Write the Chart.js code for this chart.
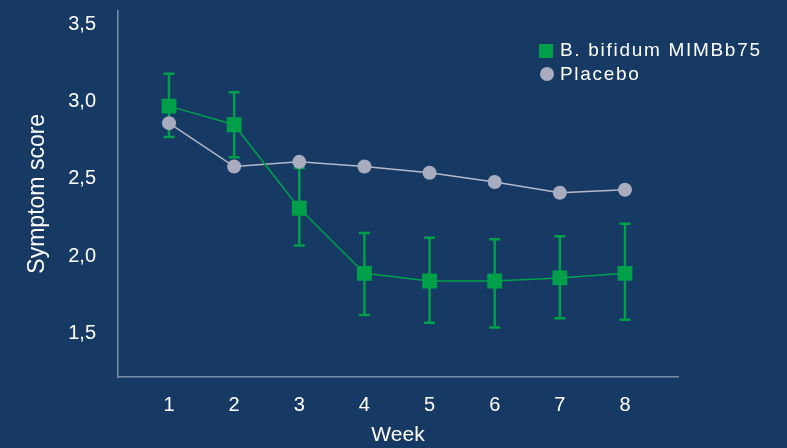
<!DOCTYPE html>
<html>
<head>
<meta charset="utf-8">
<script src="https://cdn.jsdelivr.net/npm/chart.js@4/dist/chart.umd.min.js"></script>
<style>
  html, body { margin: 0; padding: 0; background: #163a64; }
  #wrap { width: 787px; height: 448px; }
</style>
</head>
<body>
<div id="wrap"><canvas id="symptomChart" width="787" height="448"></canvas></div>
<script>
// values
const weeks = [1, 2, 3, 4, 5, 6, 7, 8];
const bifidum = [2.97, 2.85, 2.31, 1.89, 1.84, 1.84, 1.86, 1.89];
const bifidumUpper = [3.18, 3.06, 2.57, 2.15, 2.12, 2.11, 2.13, 2.21];
const bifidumLower = [2.77, 2.64, 2.07, 1.62, 1.57, 1.54, 1.60, 1.59];
const placebo = [2.86, 2.58, 2.61, 2.58, 2.54, 2.48, 2.41, 2.43];
const yTicks = [1.5, 2.0, 2.5, 3.0, 3.5];
const seriesLabels = ['B. bifidum MIMBb75', 'Placebo'];

const GREEN = '#00a04b';
const GREY = '#a9abbf';
const AXIS = '#7b8ea8';
const FONT = '"Liberation Sans", Arial, Helvetica, sans-serif';

const errorBars = {
  id: 'errorBars',
  beforeDatasetsDraw(chart) {
    const { ctx, scales: { x, y } } = chart;
    ctx.save();
    ctx.strokeStyle = GREEN;
    ctx.lineWidth = 2.5;
    weeks.forEach((w, i) => {
      const px = x.getPixelForValue(w);
      const top = y.getPixelForValue(bifidumUpper[i]);
      const bot = y.getPixelForValue(bifidumLower[i]);
      ctx.beginPath();
      ctx.moveTo(px, top); ctx.lineTo(px, bot);
      ctx.moveTo(px - 5.5, top); ctx.lineTo(px + 5.5, top);
      ctx.moveTo(px - 5.5, bot); ctx.lineTo(px + 5.5, bot);
      ctx.stroke();
    });
    ctx.restore();
  }
};

// legend drawn by hand so it can sit inside the plot at top right
const legendBox = {
  id: 'legendBox',
  afterDraw(chart) {
    const ctx = chart.ctx;
    ctx.save();
    ctx.font = '19px ' + FONT;
    ctx.textBaseline = 'alphabetic';
    if ('letterSpacing' in ctx) ctx.letterSpacing = '1.7px';
    ctx.fillStyle = GREEN;
    ctx.fillRect(539, 44, 14, 14);
    ctx.fillStyle = '#ffffff';
    ctx.fillText(seriesLabels[0], 560, 56);
    ctx.fillStyle = GREY;
    ctx.beginPath();
    ctx.arc(547, 74, 7, 0, Math.PI * 2);
    ctx.fill();
    ctx.fillStyle = '#ffffff';
    ctx.fillText(seriesLabels[1], 560, 80);
    ctx.restore();
  }
};

new Chart(document.getElementById('symptomChart'), {
  type: 'line',
  data: {
    datasets: [{
      label: seriesLabels[0],
      data: weeks.map((w, i) => ({ x: w, y: bifidum[i] })),
      borderColor: GREEN,
      backgroundColor: GREEN,
      borderWidth: 1.5,
      pointStyle: 'rect',
      pointRadius: 10.5,
      pointBorderWidth: 0,
      tension: 0
    }, {
      label: seriesLabels[1],
      data: weeks.map((w, i) => ({ x: w, y: placebo[i] })),
      borderColor: '#b6b9ca',
      backgroundColor: GREY,
      pointBackgroundColor: GREY,
      borderWidth: 1.5,
      pointStyle: 'circle',
      pointRadius: 7,
      pointBorderWidth: 0,
      tension: 0
    }]
  },
  options: {
    responsive: false,
    animation: false,
    devicePixelRatio: 1,
    layout: { padding: { top: 7, right: 109, left: 0, bottom: 0 } },
    plugins: { legend: { display: false }, tooltip: { enabled: false } },
    scales: {
      x: {
        type: 'linear',
        min: 0.217,
        max: 8.814,
        afterBuildTicks: axis => { axis.ticks = weeks.map(v => ({ value: v })); },
        afterFit: axis => { axis.height = 71; axis.paddingLeft = 0; axis.paddingRight = 0; },
        grid: { display: false, drawTicks: false },
        border: { color: AXIS, width: 1.5 },
        ticks: { color: '#ffffff', font: { family: FONT, size: 20 }, padding: 16, maxRotation: 0 },
        title: { display: true, text: 'Week', color: '#ffffff', font: { family: FONT, size: 21 }, padding: { top: 0, bottom: 0 } }
      },
      y: {
        min: 1.22,
        max: 3.588,
        afterBuildTicks: axis => { axis.ticks = yTicks.map(v => ({ value: v })); },
        afterFit: axis => { axis.width = 118; axis.paddingTop = 0; axis.paddingBottom = 0; },
        grid: { display: false, drawTicks: false },
        border: { color: AXIS, width: 1.5 },
        ticks: {
          color: '#ffffff',
          font: { family: FONT, size: 20 },
          padding: 22,
          callback: v => v.toFixed(1).replace('.', ',')
        },
        title: { display: true, text: 'Symptom score', color: '#ffffff', font: { family: FONT, size: 23 }, padding: { top: 24, bottom: 0 } }
      }
    }
  },
  plugins: [errorBars, legendBox]
});
</script>
</body>
</html>
